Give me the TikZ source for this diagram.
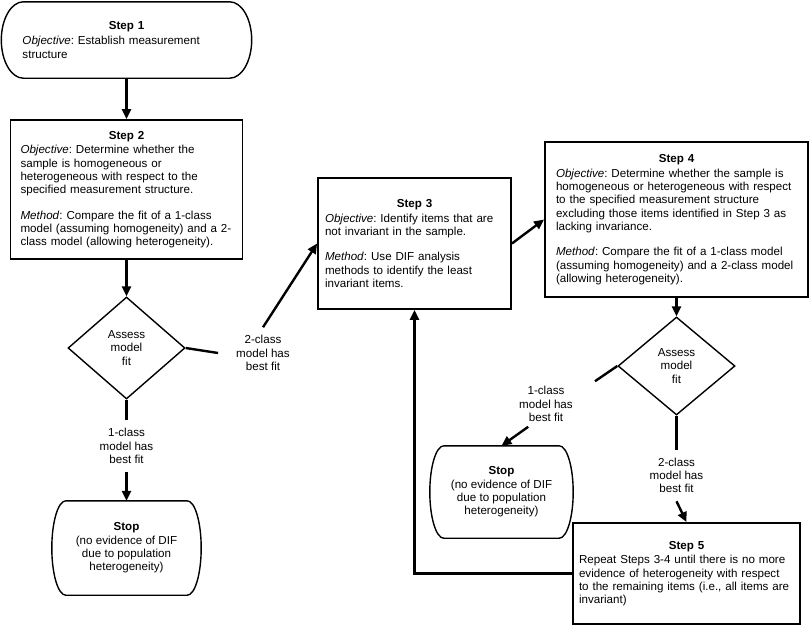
\documentclass[tikz,border=0pt]{standalone}
\usepackage{fontspec}
\setmainfont{Liberation Sans}
\usetikzlibrary{arrows.meta,shapes.geometric}
\newcommand\flowfont{\fontsize{11.6}{13.3}\selectfont\frenchspacing}
\newcommand\stephead[1]{\centerline{\textbf{#1}}\vspace{1.5pt}}
% outline of a terminal node: name, corner x radius, corner y radius
\newcommand\drawterminal[3]{%
  \draw[termedge] ([xshift=-#2pt]#1.north east) .. controls +(0.552*#2,0) and +(0,-0.552*#3) .. (#1.east)
    .. controls +(0,0.552*#3) and +(0.552*#2,0) .. ([xshift=-#2pt]#1.south east)
    -- ([xshift=#2pt]#1.south west)
    .. controls +(-0.552*#2,0) and +(0,0.552*#3) .. (#1.west)
    .. controls +(0,-0.552*#3) and +(-0.552*#2,0) .. ([xshift=#2pt]#1.north west) -- cycle;}

\begin{document}
\begin{tikzpicture}[x=1pt,y=-1pt,
  every node/.style={font=\flowfont},
  stepbox/.style={draw,line width=1.8pt,rectangle,align=left,inner sep=0pt},
  terminal/.style={rectangle,inner sep=0pt},
  termedge/.style={line width=1.4pt},
  decision/.style={draw,line width=1.4pt,diamond,align=center,inner sep=0pt},
  lbl/.style={align=center,inner xsep=18pt,inner ysep=8pt},
  flow/.style={line width=2.4pt,-{Triangle[length=10pt,width=9pt]}},
  link/.style={line width=2.4pt}]
  \useasboundingbox (0,0) rectangle (812,625);
  % Left column
  \node[terminal,align=left,minimum width=250pt,minimum height=76pt,text width=208pt] (s1) at (126.5,40) {\stephead{Step 1}
    \textit{Objective}: Establish measurement\\
    structure};
  \drawterminal{s1}{22}{38}
  \node[stepbox,minimum width=232pt,minimum height=139pt,text width=212pt] (s2) at (126.5,189.5) {\stephead{Step 2}
    \textit{Objective}: Determine whether the\\
    sample is homogeneous or\\
    heterogeneous with respect to the\\
    specified measurement structure.\\[12pt]
    \textit{Method}: Compare the fit of a 1-class\\
    model (assuming homogeneity) and a 2-\\
    class model (allowing heterogeneity).};
  \node[decision,minimum width=117pt,minimum height=102pt] (d1) at (126.5,348) {Assess\\model\\fit};
  \node[lbl] (lab1) at (126.5,446) {1-class\\model has\\best fit};
  \node[terminal,align=center,minimum width=149pt,minimum height=94pt] (stop1) at (126.5,548) {\textbf{Stop}\\(no evidence of DIF\\due to population\\heterogeneity)};
  \drawterminal{stop1}{14}{47}
  \node[lbl] (lab2) at (263,353) {2-class\\model has\\best fit};
  % Middle and right
  \node[stepbox,minimum width=193pt,minimum height=131pt,text width=179pt] (s3) at (414.5,243.5) {\stephead{Step 3}
    \textit{Objective}: Identify items that are\\
    not invariant in the sample.\\[12pt]
    \textit{Method}: Use DIF analysis\\
    methods to identify the least\\
    invariant items.};
  \node[stepbox,minimum width=263pt,minimum height=155pt,text width=241pt] (s4) at (676.5,219.5) {\stephead{Step 4}
    \textit{Objective}: Determine whether the sample is\\
    homogeneous or heterogeneous with respect\\
    to the specified measurement structure\\
    excluding those items identified in Step 3 as\\
    lacking invariance.\\[12pt]
    \textit{Method}: Compare the fit of a 1-class model\\
    (assuming homogeneity) and a 2-class model\\
    (allowing heterogeneity).\par\vspace{8pt}};
  \node[decision,minimum width=117pt,minimum height=98pt] (d2) at (676.5,366) {Assess\\model\\fit};
  \node[lbl,inner xsep=22pt,inner ysep=5pt] (lab3) at (546,404) {1-class\\model has\\best fit};
  \node[terminal,align=center,minimum width=143pt,minimum height=92pt] (stop2) at (501.5,492) {\textbf{Stop}\\(no evidence of DIF\\due to population\\heterogeneity)};
  \drawterminal{stop2}{14}{46}
  \node[lbl] (lab4) at (676.5,475.5) {2-class\\model has\\best fit};
  \node[stepbox,minimum width=227pt,minimum height=101pt,text width=215pt] (s5) at (686.5,573.5) {\stephead{Step 5}
    Repeat Steps 3-4 until there is no more\\
    evidence of heterogeneity with respect\\
    to the remaining items (i.e., all items are\\
    invariant)};
  % Connectors
  \draw[flow] (s1) -- (s2);
  \draw[flow] (s2) -- (d1);
  \draw[link] (d1) -- (lab1);
  \draw[flow] (lab1) -- (stop1);
  \draw[link] (d1.east) -- (lab2.west);
  \draw[flow] (lab2.north) -- (s3.west);
  \draw[flow] (s3.east) -- (s4.west);
  \draw[flow] (s4) -- (d2);
  \draw[link] (d2.west) -- (lab3.north east);
  \draw[flow] (lab3.232) -- (stop2.north);
  \draw[link] (d2) -- (lab4);
  \draw[flow] (lab4.south) -- (s5.north);
  \draw[flow] (s5.west) -| (s3.south);
\end{tikzpicture}
\end{document}
